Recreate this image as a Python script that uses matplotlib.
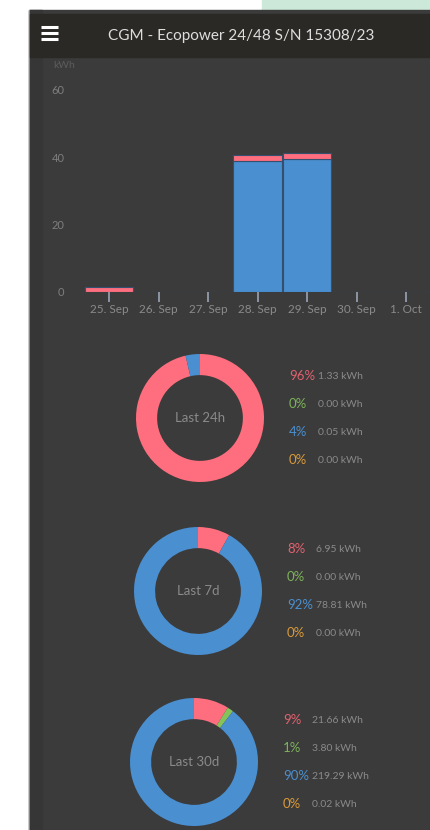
import numpy as np
import matplotlib
matplotlib.use("Agg")
import matplotlib.pyplot as plt
from matplotlib.patches import Rectangle

plt.rcParams['font.family'] = ['Lato', 'DejaVu Sans']

# ---- data ----
days = ["25. Sep", "26. Sep", "27. Sep", "28. Sep", "29. Sep", "30. Sep", "1. Oct"]
solar_kwh = [0.0, 0.0, 0.0, 39.0, 39.4, 0.0, 0.0]     # blue
grid_kwh = [1.5, 0.0, 0.0, 1.6, 1.9, 0.0, 0.0]        # pink
y_ticks = [0, 20, 40, 60]

periods = ["Last 24h", "Last 7d", "Last 30d"]
# order: pink, green, blue, orange
period_kwh = [
    [1.33, 0.00, 0.05, 0.00],
    [6.95, 0.00, 78.81, 0.00],
    [21.66, 3.80, 219.29, 0.02],
]
period_pct = [
    ["96%", "0%", "4%", "0%"],
    ["8%", "0%", "92%", "0%"],
    ["9%", "1%", "90%", "0%"],
]

title = "CGM - Ecopower 24/48 S/N 15308/23"

# ---- style ----
W, H = 430, 830
PINK = "#fe6e7e"
GREEN = "#86c25a"
BLUE = "#4a8fd0"
ORANGE = "#e7a23c"
slice_colors = [PINK, GREEN, BLUE, ORANGE]
text_colors = ["#e3616f", "#7db35a", "#4a8fd0", "#d99a3a"]
PANEL = "#3b3b3b"
HEADER = "#2a2925"
GREY = "#8a8a8a"


def px_axes(fig, x0, y0, x1, y1, **kw):
    # pixel box (top-left origin) -> figure axes
    return fig.add_axes([x0 / W, 1 - y1 / H, (x1 - x0) / W, (y1 - y0) / H], **kw)


fig = plt.figure(figsize=(W / 100, H / 100), dpi=100)
fig.patch.set_facecolor("white")

# background pieces
bg = px_axes(fig, 0, 0, W, H)
bg.set_xlim(0, W)
bg.set_ylim(H, 0)
bg.axis("off")
bg.add_patch(Rectangle((262, 0), 168, 11, color="#cce8d8"))
bg.add_patch(Rectangle((29, 10), 401, 820, color=PANEL))
bg.add_patch(Rectangle((29, 10), 1, 820, color="#9a9a9a"))
bg.add_patch(Rectangle((30, 10), 12, 820, color="#363636"))
bg.add_patch(Rectangle((30, 14), 400, 43, color=HEADER))
for yy in [27, 33, 39]:
    bg.plot([41, 58], [yy, yy], color="white", lw=2.2, solid_capstyle="butt")
bg.text(241, 36, title, color="#dedede", fontsize=11, ha="center", va="center")
bg.text(53, 65, "kWh", color="#5c5c5c", fontsize=7.5, ha="left", va="center")

# ---- bar chart ----
x0_px, px_day = 109, 49.5
y0_px, px_unit = 292, (292 - 90) / 60
ax = px_axes(fig, 70, 70, 430, 292)
ax.set_facecolor("none")
ax.set_xlim((70 - x0_px) / px_day, (430 - x0_px) / px_day)
ax.set_ylim(0, (y0_px - 70) / px_unit)
x = np.arange(len(days))
ax.bar(x, solar_kwh, width=0.98, color=BLUE, edgecolor="#34506e", linewidth=0.8)
ax.bar(x, grid_kwh, width=0.98, bottom=solar_kwh, color=PINK, edgecolor="#34506e",
       linewidth=0.8)
for s in ax.spines.values():
    s.set_visible(False)
ax.set_xticks(x)
ax.set_xticklabels(days)
ax.set_yticks(y_ticks)
ax.tick_params(axis="x", length=7.5, width=1.2, color="#9aa3b5", labelcolor=GREY,
               labelsize=8.5, pad=1)
ax.tick_params(axis="y", length=0, labelcolor="#7e7e7e", labelsize=8, pad=4)

# ---- donuts ----
centers = [(200, 418), (198, 591), (194, 762)]
R = 64
for i, (cx, cy) in enumerate(centers):
    dax = px_axes(fig, cx - R, cy - R, cx + R, cy + R)
    dax.pie(period_kwh[i], colors=slice_colors, startangle=90, counterclock=False,
            radius=1, wedgeprops=dict(width=0.33, linewidth=0))
    dax.set_xlim(-1, 1)
    dax.set_ylim(-1, 1)
    dax.set_aspect("equal")
    dax.text(0, 0, periods[i], color=GREY, fontsize=9.5, ha="center", va="center")

    lx = cx + 89
    for j in range(4):
        ly = cy - 42 + 28 * j
        bg.text(lx, ly, period_pct[i][j], color=text_colors[j], fontsize=9.5,
                ha="left", va="center")
        bg.text(lx + 29, ly, f"{period_kwh[i][j]:.2f} kWh", color=GREY, fontsize=7.5,
                ha="left", va="center")

fig.savefig("out.png", dpi=100, facecolor=fig.get_facecolor())
